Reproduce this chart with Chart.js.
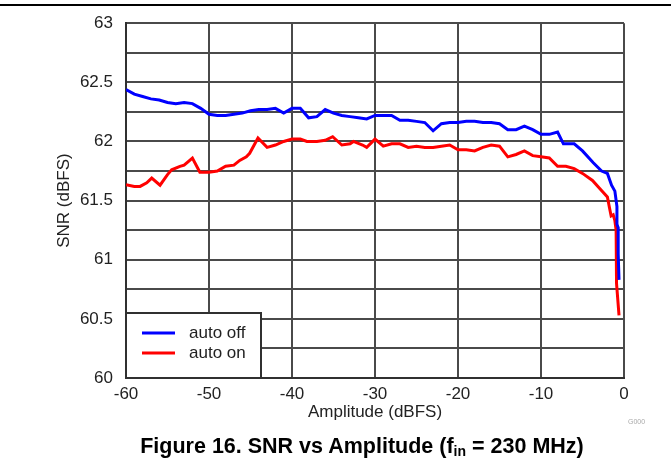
<!DOCTYPE html>
<html>
<head>
<meta charset="utf-8">
<script src="https://cdn.jsdelivr.net/npm/chart.js@4/dist/chart.umd.min.js"></script>
<style>
  body { margin: 0; background: #fff; font-family: "Liberation Sans", Arial, sans-serif; }
  #wrap { position: relative; width: 671px; height: 464px; }
  #rule { position: absolute; left: 0; top: 4px; width: 671px; height: 2px; background: #000; }
  #chart { position: absolute; left: 0; top: 0; }
  #caption { position: absolute; left: 0; width: 724px; top: 434px; text-align: center;
             font-weight: bold; font-size: 21.5px; color: #000; white-space: nowrap; }
  #caption sub { font-size: 14px; vertical-align: -3px; }
  #code { position: absolute; left: 628px; top: 418px; font-size: 7px; color: #aaa; }
</style>
</head>
<body>
<div id="wrap">
  <div id="rule"></div>
  <canvas id="chart" width="671" height="464"></canvas>
  <div id="code">G000</div>
  <div id="caption">Figure 16. SNR vs Amplitude (f<sub>in</sub> = 230 MHz)</div>
</div>
<script>
// auto off (blue)
const ampOff = [-60,-59,-58,-57,-56,-55,-54,-53,-52,-51,-50,-49,-48,-47,-46,-45,-44,-43,-42,-41,
    -40,-39,-38,-37,-36,-35,-34,-33,-32,-31,-30,-29,-28,-27,-26,-25,-24,-23,-22,-21,
    -20,-19,-18,-17,-16,-15,-14,-13,-12,-11,-10,-9,-8,-7.3,-6,-5,-3.7,-2.7,-2,-1.5,
    -1.1,-0.85,-0.85,-0.7,-0.7,-0.6];
const snrOff = [62.44,62.40,62.38,62.36,62.35,62.33,62.32,62.33,62.32,62.28,62.23,62.22,62.22,62.23,62.24,62.26,62.27,62.27,62.28,62.24,
    62.28,62.28,62.20,62.21,62.27,62.24,62.22,62.21,62.20,62.19,62.22,62.22,62.22,62.18,62.18,62.17,62.16,62.09,62.15,62.16,
    62.16,62.17,62.17,62.16,62.16,62.15,62.10,62.10,62.13,62.10,62.06,62.06,62.08,61.98,61.98,61.92,61.82,61.75,61.73,61.63,
    61.58,61.45,61.30,61.27,61.05,60.83];

// auto on (red)
const ampOn = [-60,-59,-58.3,-57.5,-56.9,-55.9,-55,-54.5,-53.5,-53,-52,-51.1,-50,-49,-48,-47,-46.3,-45.5,-45.1,-44.1,
    -43,-42,-41,-40,-39,-38.2,-37,-36,-35.1,-34,-33,-32.6,-31.5,-31,-30,-29,-28,-27,-26,-25,
    -24,-23,-22,-21,-20,-19,-18,-17,-16,-15,-14,-13,-12,-11,-10,-9,-8,-7,-6,-5,
    -3.8,-2.9,-2,-1.75,-1.55,-1.3,-1.1,-0.95,-0.95,-0.85,-0.6];
const snrOn = [61.635,61.62,61.62,61.65,61.69,61.63,61.72,61.76,61.79,61.80,61.86,61.74,61.74,61.75,61.79,61.80,61.84,61.87,61.90,62.03,
    61.95,61.97,62.00,62.02,62.02,62.00,62.00,62.01,62.04,61.97,61.98,62.00,61.97,61.95,62.02,61.96,61.98,61.98,61.95,61.96,
    61.95,61.95,61.96,61.97,61.93,61.93,61.92,61.95,61.97,61.96,61.87,61.89,61.92,61.88,61.87,61.86,61.79,61.79,61.77,61.73,
    61.67,61.60,61.53,61.44,61.37,61.38,61.33,61.25,61.00,60.80,60.53];

const seriesNames = ['auto off', 'auto on'];
const xTicks = [-60, -50, -40, -30, -20, -10, 0];
const yMin = 60, yMax = 63;

function toPoints(xs, ys) {
    return xs.map(function(x, i){ return {x: x, y: ys[i]}; });
}

const gridColor = '#4a4a4a';
const font = {family: '"Liberation Sans", Arial, sans-serif', size: 17};

// legend box sitting in the lower left corner of the plot
const boxLegend = {
    id: 'boxLegend',
    afterDatasetsDraw(chart) {
        const ctx = chart.ctx;
        const a = chart.chartArea;
        const w = 135, h = 65;
        const x0 = a.left, y0 = a.bottom - h;
        ctx.save();
        ctx.fillStyle = '#fff';
        ctx.fillRect(x0, y0, w, h);
        ctx.strokeStyle = '#303030';
        ctx.lineWidth = 2;
        ctx.strokeRect(x0, y0, w, h);
        ctx.font = '17px "Liberation Sans", Arial, sans-serif';
        ctx.textBaseline = 'middle';
        chart.data.datasets.forEach(function(ds, i){
            const y = y0 + 20 + i * 20;
            ctx.strokeStyle = ds.borderColor;
            ctx.lineWidth = 3;
            ctx.beginPath();
            ctx.moveTo(x0 + 16, y);
            ctx.lineTo(x0 + 49, y);
            ctx.stroke();
            ctx.fillStyle = '#222';
            ctx.fillText(ds.label, x0 + 63, y);
        });
        ctx.restore();
    }
};

new Chart(document.getElementById('chart'), {
    type: 'line',
    data: {
        datasets: [{
            label: seriesNames[0],
            data: toPoints(ampOff, snrOff),
            borderColor: '#0000ff',
            borderWidth: 3,
            pointRadius: 0,
            fill: false
        }, {
            label: seriesNames[1],
            data: toPoints(ampOn, snrOn),
            borderColor: '#ff0000',
            borderWidth: 3,
            pointRadius: 0,
            fill: false
        }]
    },
    options: {
        responsive: false,
        animation: false,
        layout: {padding: {top: 22, right: 47, left: 54, bottom: 41}},
        plugins: {legend: {display: false}, tooltip: {enabled: false}},
        scales: {
            x: {
                type: 'linear',
                min: -60, max: 0,
                afterBuildTicks: function(s){ s.ticks = xTicks.map(function(v){ return {value: v}; }); },
                afterFit: function(s){ s.height = 45; },
                grid: {color: gridColor, lineWidth: 2, drawTicks: false},
                border: {color: '#303030', width: 2},
                ticks: {color: '#222', font: font, padding: 6, maxRotation: 0},
                title: {display: true, text: 'Amplitude (dBFS)', color: '#222', font: font, padding: 0}
            },
            y: {
                min: yMin, max: yMax,
                afterFit: function(s){ s.width = 72; },
                grid: {color: gridColor, lineWidth: 2, drawTicks: false},
                border: {color: '#303030', width: 2},
                ticks: {
                    stepSize: 0.25, color: '#222', font: font, padding: 13, autoSkip: false,
                    callback: function(v){ return Math.abs(v * 2 - Math.round(v * 2)) < 1e-9 ? v : ''; }
                },
                title: {display: true, text: 'SNR (dBFS)', color: '#222', font: font, padding: 0}
            }
        }
    },
    plugins: [boxLegend]
});
</script>
</body>
</html>
